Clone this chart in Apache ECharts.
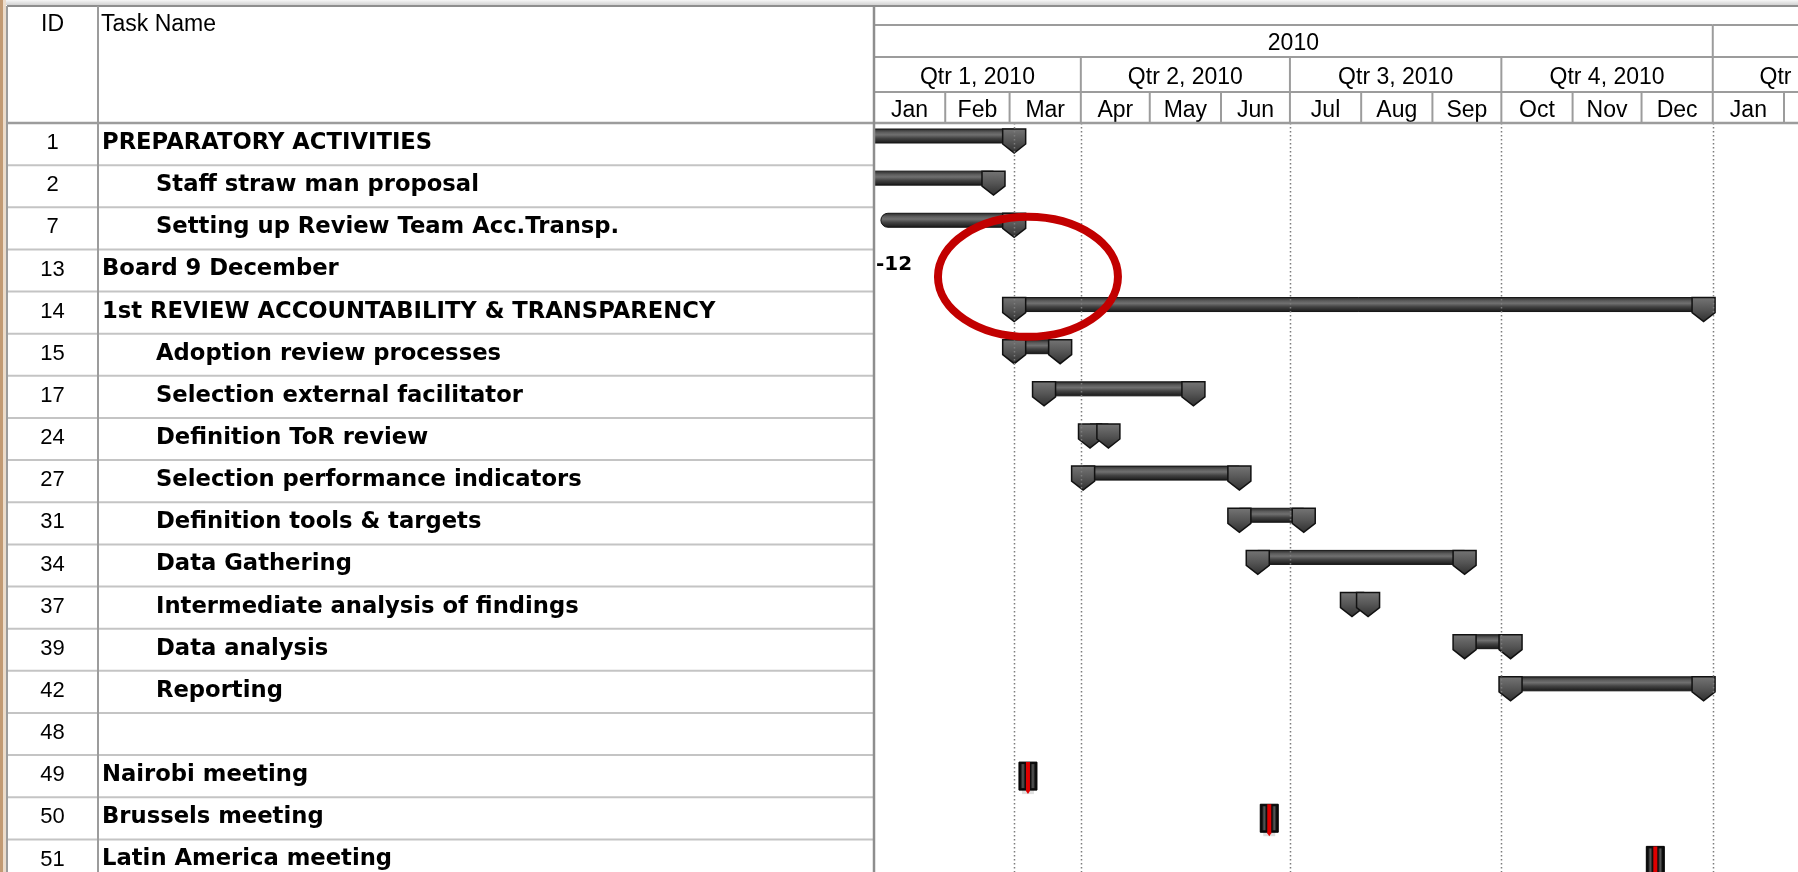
<!DOCTYPE html>
<html><head><meta charset="utf-8">
<script src="https://cdn.jsdelivr.net/npm/echarts@6/dist/echarts.min.js"></script>
<style>html,body{margin:0;padding:0;background:#fff;overflow:hidden}#c{width:1798px;height:872px}</style>
</head><body><div id="c"></div>
<script>
// ---------------- DATA ----------------
const taskIds = [1, 2, 7, 13, 14, 15, 17, 24, 27, 31, 34, 37, 39, 42, 48, 49, 50, 51];
const taskNames = [
  'PREPARATORY ACTIVITIES', 'Staff straw man proposal', 'Setting up Review Team Acc.Transp.',
  'Board 9 December', '1st REVIEW ACCOUNTABILITY & TRANSPARENCY', 'Adoption review processes',
  'Selection external facilitator', 'Definition ToR review', 'Selection performance indicators',
  'Definition tools & targets', 'Data Gathering', 'Intermediate analysis of findings',
  'Data analysis', 'Reporting', '', 'Nairobi meeting', 'Brussels meeting', 'Latin America meeting'
];
const taskLevels = [0, 1, 1, 0, 0, 1, 1, 1, 1, 1, 1, 1, 1, 1, 0, 0, 0, 0];

// summary bars: row index, start, finish, whether start cap is drawn
const barRows     = [0, 1, 2, 4, 5, 6, 7, 8, 9, 10, 11, 12, 13];
const barStarts   = ['2009-11-16', '2009-11-16', '2010-01-04', '2010-03-03', '2010-03-03', '2010-03-16', '2010-04-05', '2010-04-02', '2010-06-09', '2010-06-17', '2010-07-28', '2010-09-15', '2010-10-05'];
const barEnds     = ['2010-03-03', '2010-02-22', '2010-03-03', '2010-12-28', '2010-03-23', '2010-05-20', '2010-04-13', '2010-06-09', '2010-07-07', '2010-09-15', '2010-08-04', '2010-10-05', '2010-12-28'];
const barStartCap = [true, true, false, true, true, true, true, true, true, true, true, true, true];

// milestone (Board 9 December), lies before the visible window
const boardRows   = [3];
const boardDates  = ['2009-12-09'];
const boardLabels = ['9-12'];

// meetings
const meetingRows  = [15, 16, 17];
const meetingDates = ['2010-03-09', '2010-06-22', '2010-12-07'];

// dotted vertical lines (status date + quarter starts)
const gridLineDates = ['2010-03-03', '2010-04-01', '2010-07-01', '2010-10-01', '2011-01-01'];

// timescale header
const yearLabels    = ['2010', '2011'];
const yearStarts    = ['2010-01-01', '2011-01-01'];
const yearEnds      = ['2011-01-01', '2012-01-01'];
const quarterLabels = ['Qtr 1, 2010', 'Qtr 2, 2010', 'Qtr 3, 2010', 'Qtr 4, 2010', 'Qtr 1, 2011'];
const quarterStarts = ['2010-01-01', '2010-04-01', '2010-07-01', '2010-10-01', '2011-01-01'];
const quarterEnds   = ['2010-04-01', '2010-07-01', '2010-10-01', '2011-01-01', '2011-04-01'];
const monthLabels   = ['Jan', 'Feb', 'Mar', 'Apr', 'May', 'Jun', 'Jul', 'Aug', 'Sep', 'Oct', 'Nov', 'Dec', 'Jan', 'Feb'];
const monthStarts   = ['2010-01-01', '2010-02-01', '2010-03-01', '2010-04-01', '2010-05-01', '2010-06-01', '2010-07-01', '2010-08-01', '2010-09-01', '2010-10-01', '2010-11-01', '2010-12-01', '2011-01-01', '2011-02-01'];
const monthEnds     = ['2010-02-01', '2010-03-01', '2010-04-01', '2010-05-01', '2010-06-01', '2010-07-01', '2010-08-01', '2010-09-01', '2010-10-01', '2010-11-01', '2010-12-01', '2011-01-01', '2011-02-01', '2011-03-01'];

// red annotation ellipse (date, row position)
const highlightDate = '2010-03-09';
const highlightRow = 3.65;

// ---------------- LAYOUT ----------------
const W = 1798, H = 872;
const ROW_H = 42.14, BODY_TOP = 123, N_ROWS = taskIds.length;
const TABLE_LEFT = 7, ID_DIV = 98, GANTT_LEFT = 874;
const PX_PER_DAY = 2.298;
const HEADER_TOP = 6, HEADER_H = BODY_TOP - HEADER_TOP;
const HEADER_BANDS = [[19, 51], [51, 86], [86, 117]];
const LINE_C = '#9c9c9c';
const NAME_FONT = '"DejaVu Sans", Verdana, sans-serif';
const HEAD_FONT = '"Liberation Sans", Arial, sans-serif';
const BODY_H = H - BODY_TOP;               // visible body height
const ROWS_VISIBLE = BODY_H / ROW_H;       // last row is cut by the window

const DAY = 86400000;
const T = s => new Date(s + 'T00:00:00').getTime();
const T0 = T('2010-01-01');
const TMAX = T0 + (W - GANTT_LEFT) / PX_PER_DAY * DAY;

const bodyGrad = {type: 'linear', x: 0, y: 0, x2: 0, y2: 1, colorStops: [
  {offset: 0, color: '#262626'}, {offset: 0.25, color: '#5c5c5c'}, {offset: 0.42, color: '#707070'},
  {offset: 0.65, color: '#434343'}, {offset: 1, color: '#161616'}]};
const capGrad = {type: 'linear', x: 0, y: 0, x2: 0, y2: 1, colorStops: [
  {offset: 0, color: '#767676'}, {offset: 0.5, color: '#555'}, {offset: 1, color: '#2e2e2e'}]};
const stripeGrad = {type: 'linear', x: 0, y: 0, x2: 1, y2: 0, colorStops: [
  {offset: 0, color: '#1a1a1a'}, {offset: 0.5, color: '#5a5a5a'}, {offset: 1, color: '#141414'}]};

function txt(text, x, y, align, font, size, weight) {
  return {type: 'text', style: {text: text, x: x, y: y, align: align, textAlign: align,
    verticalAlign: 'middle', textVerticalAlign: 'middle', fontFamily: font, fontSize: size,
    fontWeight: weight || 'normal', fill: '#000'}};
}

function cap(x, top) {
  const hw = 11.5, t = top + 6, m = top + 21, b = top + 30;
  return {type: 'polygon', shape: {points: [[x - hw, t], [x + hw, t], [x + hw, m], [x, b], [x - hw, m]]},
    style: {fill: capGrad, stroke: '#111', lineWidth: 1.5}};
}

// ---------------- SERIES ----------------
const tableSeries = {
  type: 'custom', xAxisIndex: 0, yAxisIndex: 0, clip: true, z: 2,
  data: taskIds.map((id, i) => [0, i]),
  renderItem: function (params, api) {
    const i = params.dataIndex;
    const top = api.coord([0, i])[1], bot = api.coord([0, i + 1])[1];
    const cs = params.coordSys;
    const mid = (top + bot) / 2 - 1;
    const ch = [
      {type: 'line', shape: {x1: cs.x, y1: bot, x2: cs.x + cs.width, y2: bot}, style: {stroke: '#c4c4c4', lineWidth: 2}},
      txt(String(taskIds[i]), (TABLE_LEFT + ID_DIV) / 2, mid, 'center', HEAD_FONT, 22, 'normal')
    ];
    if (taskNames[i]) ch.push(txt(taskNames[i], ID_DIV + 4 + taskLevels[i] * 54, mid, 'left', NAME_FONT, 22.7, 'bold'));
    return {type: 'group', children: ch};
  }
};

const barSeries = {
  type: 'custom', xAxisIndex: 1, yAxisIndex: 1, clip: true, z: 3,
  data: barRows.map((r, i) => [T(barStarts[i]), T(barEnds[i]), r]),
  encode: {x: [0, 1], y: 2},
  renderItem: function (params, api) {
    const i = params.dataIndex;
    const row = barRows[i];
    const xs = api.coord([T(barStarts[i]), row])[0];
    const xe = api.coord([T(barEnds[i]), row])[0];
    const top = api.coord([T0, row])[1];
    const ch = [{type: 'rect', shape: {x: xs, y: top + 6, width: xe - xs, height: 14, r: barStartCap[i] ? 0 : [7, 0, 0, 7]},
      style: {fill: bodyGrad, stroke: '#141414', lineWidth: 1}}];
    if (barStartCap[i]) ch.push(cap(xs, top));
    ch.push(cap(xe, top));
    return {type: 'group', children: ch};
  }
};

const boardSeries = {
  type: 'custom', xAxisIndex: 1, yAxisIndex: 1, clip: true, z: 3,
  data: boardRows.map((r, i) => [T(boardDates[i]), r]),
  renderItem: function (params, api) {
    const i = params.dataIndex;
    const p = api.coord([T(boardDates[i]), boardRows[i] + 0.5]);
    return {type: 'group', children: [
      {type: 'polygon', shape: {points: [[p[0], p[1] - 10], [p[0] + 10, p[1]], [p[0], p[1] + 10], [p[0] - 10, p[1]]]}, style: {fill: '#000'}},
      txt(boardLabels[i], p[0] + 41, p[1] - 6, 'left', NAME_FONT, 20, 'bold')
    ]};
  }
};

const meetingSeries = {
  type: 'custom', xAxisIndex: 1, yAxisIndex: 1, clip: true, z: 3,
  data: meetingRows.map((r, i) => [T(meetingDates[i]), r]),
  renderItem: function (params, api) {
    const i = params.dataIndex;
    const x = api.coord([T(meetingDates[i]), meetingRows[i]])[0];
    const top = api.coord([T0, meetingRows[i]])[1];
    return {type: 'group', children: [
      {type: 'rect', shape: {x: x - 6, y: top + 34, width: 12, height: 5}, style: {fill: 'rgba(0,0,0,0.12)'}},
      {type: 'rect', shape: {x: x - 9, y: top + 7, width: 18, height: 28}, style: {fill: '#0c0c0c', stroke: '#000', lineWidth: 1}},
      {type: 'rect', shape: {x: x - 7, y: top + 9, width: 4, height: 24}, style: {fill: stripeGrad}},
      {type: 'rect', shape: {x: x + 3, y: top + 9, width: 4, height: 24}, style: {fill: stripeGrad}},
      {type: 'polygon', shape: {points: [[x - 2, top + 7], [x + 2, top + 7], [x + 2, top + 36], [x, top + 39], [x - 2, top + 36]]}, style: {fill: '#e00000'}}
    ]};
  }
};

const gridLineSeries = {
  type: 'custom', xAxisIndex: 1, yAxisIndex: 1, clip: true, z: 5,
  data: gridLineDates.map(d => [T(d), 0]),
  renderItem: function (params, api) {
    const x = Math.round(api.coord([T(gridLineDates[params.dataIndex]), 0])[0]) + 0.5;
    const cs = params.coordSys;
    return {type: 'line', shape: {x1: x, y1: cs.y, x2: x, y2: cs.y + cs.height},
      style: {stroke: '#7c7c7c', lineWidth: 1.5, lineDash: [1.5, 2.5]}};
  }
};

const ellipseSeries = {
  type: 'custom', xAxisIndex: 1, yAxisIndex: 1, clip: false, z: 6,
  data: [[T(highlightDate), highlightRow]],
  renderItem: function (params, api) {
    const p = api.coord([T(highlightDate), highlightRow]);
    return {type: 'ellipse', shape: {cx: p[0], cy: p[1], rx: 90, ry: 60},
      style: {fill: 'none', stroke: '#c20000', lineWidth: 8}};
  }
};

const headerCells = [];
yearLabels.forEach((l, i) => headerCells.push({band: 0, label: l, s: yearStarts[i], e: yearEnds[i]}));
quarterLabels.forEach((l, i) => headerCells.push({band: 1, label: l, s: quarterStarts[i], e: quarterEnds[i]}));
monthLabels.forEach((l, i) => headerCells.push({band: 2, label: l, s: monthStarts[i], e: monthEnds[i]}));

const headerSeries = {
  type: 'custom', xAxisIndex: 2, yAxisIndex: 2, clip: true, z: 3,
  data: headerCells.map(c => [T(c.s), T(c.e), c.band]),
  renderItem: function (params, api) {
    const c = headerCells[params.dataIndex];
    const b = HEADER_BANDS[c.band];
    const x0 = api.coord([T(c.s), b[0]])[0], x1 = api.coord([T(c.e), b[0]])[0];
    const y0 = api.coord([T0, b[0]])[1], y1 = api.coord([T0, b[1]])[1];
    return {type: 'group', children: [
      {type: 'line', shape: {x1: x0, y1: y0, x2: x0, y2: y1}, style: {stroke: LINE_C, lineWidth: 2}},
      {type: 'line', shape: {x1: x0, y1: y0, x2: x1, y2: y0}, style: {stroke: LINE_C, lineWidth: 2}},
      {type: 'line', shape: {x1: x0, y1: y1, x2: x1, y2: y1}, style: {stroke: LINE_C, lineWidth: 2}},
      txt(c.label, (x0 + x1) / 2, (y0 + y1) / 2 + 3, 'center', HEAD_FONT, 23, 'normal')
    ]};
  }
};

// ---------------- DECORATION (frame) ----------------
function gLine(x1, y1, x2, y2, c, w) {
  return {type: 'line', z: 50, shape: {x1: x1, y1: y1, x2: x2, y2: y2}, style: {stroke: c, lineWidth: w}};
}
const graphicEls = [
  {type: 'rect', z: 40, shape: {x: 0, y: 0, width: W, height: 5},
    style: {fill: {type: 'linear', x: 0, y: 0, x2: 0, y2: 1, colorStops: [{offset: 0, color: '#f6f6f6'}, {offset: 1, color: '#d2d2d2'}]}}},
  {type: 'rect', z: 41, shape: {x: 0, y: 0, width: 3, height: H}, style: {fill: '#c29a73'}},
  {type: 'rect', z: 41, shape: {x: 3, y: 0, width: 3, height: H}, style: {fill: '#ecdccb'}},
  gLine(TABLE_LEFT, HEADER_TOP, W, HEADER_TOP, '#8e8e8e', 2),
  gLine(TABLE_LEFT, BODY_TOP, W, BODY_TOP, LINE_C, 2.5),
  gLine(TABLE_LEFT, HEADER_TOP, TABLE_LEFT, H, LINE_C, 2),
  gLine(ID_DIV, HEADER_TOP, ID_DIV, H, LINE_C, 2),
  gLine(GANTT_LEFT, HEADER_TOP, GANTT_LEFT, H, '#8e8e8e', 2.5),
  Object.assign(txt('ID', (TABLE_LEFT + ID_DIV) / 2, 25, 'center', HEAD_FONT, 23, 'normal'), {z: 50}),
  Object.assign(txt('Task Name', ID_DIV + 3, 25, 'left', HEAD_FONT, 23, 'normal'), {z: 50})
];

const chart = echarts.init(document.getElementById('c'), null, {renderer: 'canvas'});
chart.setOption({
  animation: false,
  backgroundColor: '#ffffff',
  grid: [
    {left: TABLE_LEFT, top: BODY_TOP, width: GANTT_LEFT - TABLE_LEFT, height: BODY_H},
    {left: GANTT_LEFT, top: BODY_TOP, width: W - GANTT_LEFT, height: BODY_H},
    {left: GANTT_LEFT, top: HEADER_TOP, width: W - GANTT_LEFT, height: HEADER_H}
  ],
  xAxis: [
    {type: 'value', gridIndex: 0, min: 0, max: 1, show: false},
    {type: 'time', gridIndex: 1, min: T0, max: TMAX, show: false},
    {type: 'time', gridIndex: 2, min: T0, max: TMAX, show: false}
  ],
  yAxis: [
    {type: 'value', gridIndex: 0, min: 0, max: ROWS_VISIBLE, inverse: true, show: false},
    {type: 'value', gridIndex: 1, min: 0, max: ROWS_VISIBLE, inverse: true, show: false},
    {type: 'value', gridIndex: 2, min: 0, max: HEADER_H, inverse: true, show: false}
  ],
  graphic: {elements: graphicEls},
  series: [tableSeries, barSeries, boardSeries, meetingSeries, gridLineSeries, ellipseSeries, headerSeries]
});
</script></body></html>
